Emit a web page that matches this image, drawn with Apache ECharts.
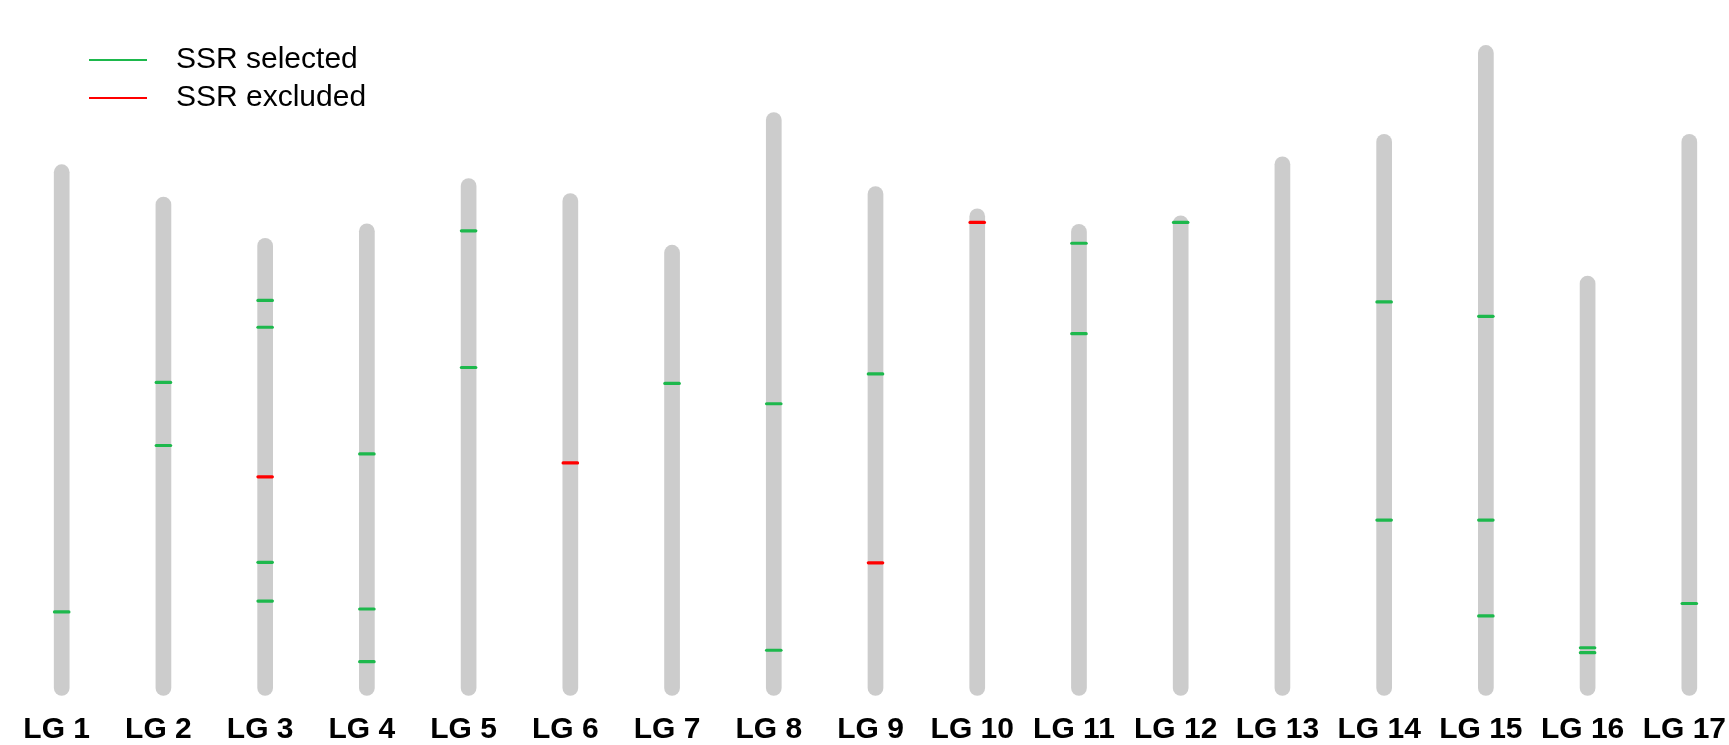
<!DOCTYPE html>
<html>
<head>
<meta charset="utf-8">
<title>SSR markers on linkage groups</title>
<script src="https://cdn.jsdelivr.net/npm/echarts@6/dist/echarts.min.js"></script>
<style>
  html, body { margin: 0; padding: 0; background: #ffffff; }
  #chart { width: 1729px; height: 745px; }
</style>
</head>
<body>
<div id="chart"></div>
<script>
// Linkage groups and their lengths (cM)
const groups = ['LG 1', 'LG 2', 'LG 3', 'LG 4', 'LG 5', 'LG 6', 'LG 7', 'LG 8', 'LG 9',
                'LG 10', 'LG 11', 'LG 12', 'LG 13', 'LG 14', 'LG 15', 'LG 16', 'LG 17'];
const lengths = [103.8, 97.3, 89.0, 91.9, 101.0, 98.0, 87.6, 114.3, 99.4,
                 94.9, 91.8, 93.5, 105.4, 109.9, 127.8, 81.4, 109.9];

// SSR positions as [group index, position in cM]
const selected = [
  [0, 15.3],
  [1, 61.5], [1, 48.8],
  [2, 78.0], [2, 72.6], [2, 25.3], [2, 17.5],
  [3, 47.1], [3, 15.9], [3, 5.3],
  [4, 92.0], [4, 64.5],
  [6, 61.3],
  [7, 57.2], [7, 7.6],
  [8, 63.2],
  [10, 89.5], [10, 71.3],
  [11, 93.7],
  [13, 77.7], [13, 33.8],
  [14, 74.8], [14, 33.8], [14, 14.5],
  [15, 8.1], [15, 7.1],
  [16, 17.0]
];
const excluded = [
  [2, 42.5],
  [5, 45.3],
  [8, 25.2],
  [9, 93.7]
];

const GREEN = '#1db84c';
const RED = '#ff0000';
const GREY = '#cccccc';
const FONT = '"Liberation Sans", Arial, sans-serif';

const chart = echarts.init(document.getElementById('chart'), null, { renderer: 'canvas' });

// Each linkage group: a grey rod with rounded ends from 0 to its length
function chromosomeItem(params, api) {
  const base = api.coord([api.value(0), 0]);
  const tip = api.coord([api.value(0), api.value(1)]);
  return {
    type: 'line',
    shape: { x1: base[0], y1: base[1], x2: tip[0], y2: tip[1] },
    style: { stroke: GREY, lineWidth: 15.7, lineCap: 'round' }
  };
}

// Each SSR: a short horizontal tick across the rod
function markerItem(color) {
  return function (params, api) {
    const p = api.coord([api.value(0), api.value(1)]);
    return {
      type: 'line',
      shape: { x1: p[0] - 7.2, y1: p[1], x2: p[0] + 7.2, y2: p[1] },
      style: { stroke: color, lineWidth: 3.2, lineCap: 'round' }
    };
  };
}

chart.setOption({
  animation: false,
  backgroundColor: '#ffffff',
  textStyle: { fontFamily: FONT },
  grid: { left: 61.7, width: 1635.2, top: 42, height: 650, containLabel: false },
  legend: {
    orient: 'vertical',
    left: 89,
    top: 45,
    padding: 0,
    itemWidth: 58,
    itemHeight: 2,
    itemGap: 8,
    icon: 'rect',
    selectedMode: false,
    data: ['SSR selected', 'SSR excluded'],
    textStyle: {
      fontFamily: FONT,
      fontSize: 30,
      lineHeight: 30,
      color: '#000000',
      padding: [0, 0, 0, 24]
    }
  },
  xAxis: {
    type: 'value',
    min: 0,
    max: groups.length - 1,
    interval: 1,
    axisLine: { show: false },
    axisTick: { show: false },
    splitLine: { show: false },
    axisLabel: {
      margin: 27,
      fontSize: 30,
      fontWeight: 'bold',
      color: '#000000',
      fontFamily: FONT,
      padding: [0, 10, 0, 0],
      showMinLabel: true,
      showMaxLabel: true,
      formatter: function (v) { return groups[v] || ''; }
    }
  },
  yAxis: {
    type: 'value',
    min: 0,
    max: 130,
    show: false
  },
  series: [
    {
      name: 'chromosomes',
      type: 'custom',
      renderItem: chromosomeItem,
      data: lengths.map((len, i) => [i, len]),
      clip: false,
      silent: true,
      z: 1
    },
    {
      name: 'SSR selected',
      type: 'custom',
      renderItem: markerItem(GREEN),
      itemStyle: { color: GREEN },
      data: selected,
      clip: false,
      z: 2
    },
    {
      name: 'SSR excluded',
      type: 'custom',
      renderItem: markerItem(RED),
      itemStyle: { color: RED },
      data: excluded,
      clip: false,
      z: 2
    }
  ]
});
</script>
</body>
</html>
